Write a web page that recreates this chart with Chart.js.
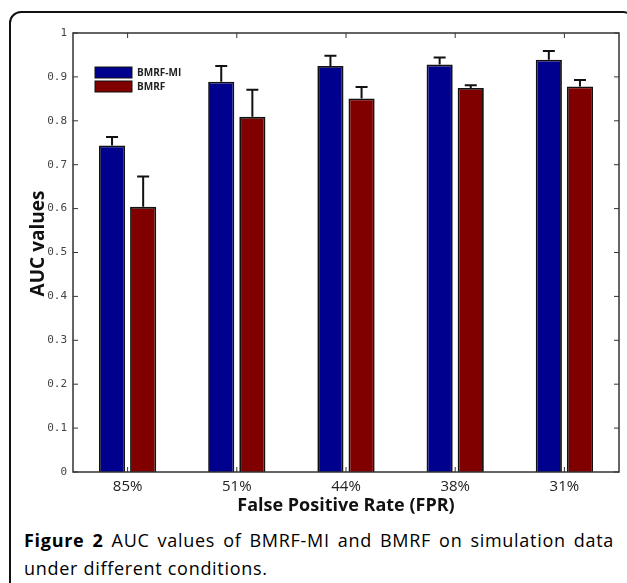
<!DOCTYPE html>
<html lang="en">
<head>
    <meta charset="UTF-8">
    <title>AUC values of BMRF-MI and BMRF</title>
    <script src="https://cdn.jsdelivr.net/npm/chart.js"></script>
    <style>
        body {
            margin: 0;
            background: #fff;
            width: 627px;
            height: 583px;
            overflow: hidden;
            position: relative;
            font-family: "Open Sans", sans-serif;
        }
        .frame {
            position: absolute;
            left: 9px;
            top: 11px;
            width: 626px;
            height: 620px;
            border: 2px solid #111;
            border-radius: 12px;
            box-sizing: border-box;
        }
        #wrap {
            position: absolute;
            left: 0;
            top: 0;
            width: 627px;
            height: 520px;
        }
        .caption {
            position: absolute;
            left: 24px;
            top: 526px;
            width: 590px;
            font-size: 18px;
            font-weight: 500;
            letter-spacing: 0.7px;
            line-height: 28px;
            color: #000;
        }
        .caption b { font-weight: 700; }
        .caption .l1 {
            text-align: justify;
            text-align-last: justify;
        }
    </style>
</head>
<body>
    <div class="frame"></div>
    <div id="wrap"><canvas id="aucChart" width="627" height="520"></canvas></div>
    <div class="caption">
        <div class="l1"><b>Figure 2</b> AUC values of BMRF-MI and BMRF on simulation data</div>
        <div>under different conditions.</div>
    </div>
    <script>
        const fprLabels = ["85%", "51%", "44%", "38%", "31%"];
        const mi = [0.744, 0.889, 0.925, 0.928, 0.939];
        const miErr = [0.019, 0.036, 0.023, 0.016, 0.020];
        const plain = [0.604, 0.809, 0.851, 0.875, 0.878];
        const plainErr = [0.069, 0.062, 0.026, 0.006, 0.015];
        const yTicks = [0, 0.1, 0.2, 0.3, 0.4, 0.5, 0.6, 0.7, 0.8, 0.9, 1];

        const errs = [miErr, plainErr];

        // box, inward ticks, error bars, legend and y title, matlab style
        const matlabBits = {
            id: 'matlabBits',
            afterDatasetsDraw(chart) {
                const { ctx, chartArea: a, scales } = chart;
                const y = scales.y, x = scales.x;
                ctx.save();
                ctx.strokeStyle = '#111';

                // error bars (upper only)
                ctx.lineWidth = 2;
                chart.data.datasets.forEach((ds, di) => {
                    chart.getDatasetMeta(di).data.forEach((bar, i) => {
                        const top = y.getPixelForValue(ds.data[i] + errs[di][i]);
                        ctx.beginPath();
                        ctx.moveTo(bar.x, bar.y);
                        ctx.lineTo(bar.x, top);
                        ctx.moveTo(bar.x - 6, top);
                        ctx.lineTo(bar.x + 6, top);
                        ctx.stroke();
                    });
                });

                // axes box
                ctx.lineWidth = 1.5;
                ctx.strokeStyle = '#333';
                ctx.strokeRect(a.left, a.top, a.right - a.left, a.bottom - a.top);

                // inward ticks
                ctx.lineWidth = 1;
                ctx.beginPath();
                yTicks.forEach(v => {
                    const py = y.getPixelForValue(v);
                    ctx.moveTo(a.left, py); ctx.lineTo(a.left + 5, py);
                    ctx.moveTo(a.right, py); ctx.lineTo(a.right - 5, py);
                });
                fprLabels.forEach((l, i) => {
                    const px = x.getPixelForValue(i);
                    ctx.moveTo(px, a.top); ctx.lineTo(px, a.top + 5);
                    ctx.moveTo(px, a.bottom); ctx.lineTo(px, a.bottom - 5);
                });
                ctx.stroke();

                // legend
                const lx = a.left + 22, ly = a.top + 34;
                ctx.font = 'bold 10px "Open Sans", sans-serif';
                ctx.textBaseline = 'middle';
                chart.data.datasets.forEach((ds, di) => {
                    const yy = ly + di * 14;
                    ctx.fillStyle = ds.backgroundColor;
                    ctx.fillRect(lx, yy, 37, 11);
                    ctx.lineWidth = 1;
                    ctx.strokeStyle = '#111';
                    ctx.strokeRect(lx, yy, 37, 11);
                    ctx.fillStyle = '#222';
                    ctx.fillText(ds.label, lx + 42, yy + 6);
                });

                // y title, sits a bit above the middle in the original
                ctx.translate(39, (a.top + a.bottom) / 2 - 9);
                ctx.rotate(-Math.PI / 2);
                ctx.font = 'bold 19px "Open Sans", sans-serif';
                ctx.textAlign = 'center';
                ctx.fillStyle = '#111';
                ctx.fillText('AUC values', 0, 0);
                ctx.restore();
            }
        };

        const ctx = document.getElementById('aucChart').getContext('2d');
        new Chart(ctx, {
            type: 'bar',
            data: {
                labels: fprLabels,
                datasets: [
                    { label: 'BMRF-MI', data: mi, backgroundColor: '#00008f', borderColor: '#111', borderWidth: 1.8 },
                    { label: 'BMRF', data: plain, backgroundColor: '#800000', borderColor: '#111', borderWidth: 1.8 }
                ]
            },
            options: {
                responsive: false,
                animation: false,
                categoryPercentage: 0.57,
                barPercentage: 0.84,
                layout: { padding: { top: 33, right: 8, left: 0, bottom: 0 } },
                plugins: { legend: { display: false }, tooltip: { enabled: false } },
                scales: {
                    x: {
                        grid: { display: false, tickLength: 0 },
                        border: { display: false },
                        ticks: { color: '#222', font: { family: 'Open Sans', size: 15 }, padding: 6 },
                        title: { display: true, text: 'False Positive Rate (FPR)', color: '#111',
                                 font: { family: 'Open Sans', size: 18, weight: 'bold' }, padding: { top: 0, bottom: 3 } },
                        afterFit(s) { s.height = 48; }
                    },
                    y: {
                        min: 0, max: 1,
                        grid: { display: false, tickLength: 0 },
                        border: { display: false },
                        afterBuildTicks(s) { s.ticks = yTicks.map(v => ({ value: v })); },
                        ticks: {
                            color: '#444', padding: 6,
                            font: { family: 'DejaVu Sans Mono', size: 11 },
                            callback: v => String(v)
                        },
                        afterFit(s) { s.width = 73; }
                    }
                }
            },
            plugins: [matlabBits]
        });
    </script>
</body>
</html>
